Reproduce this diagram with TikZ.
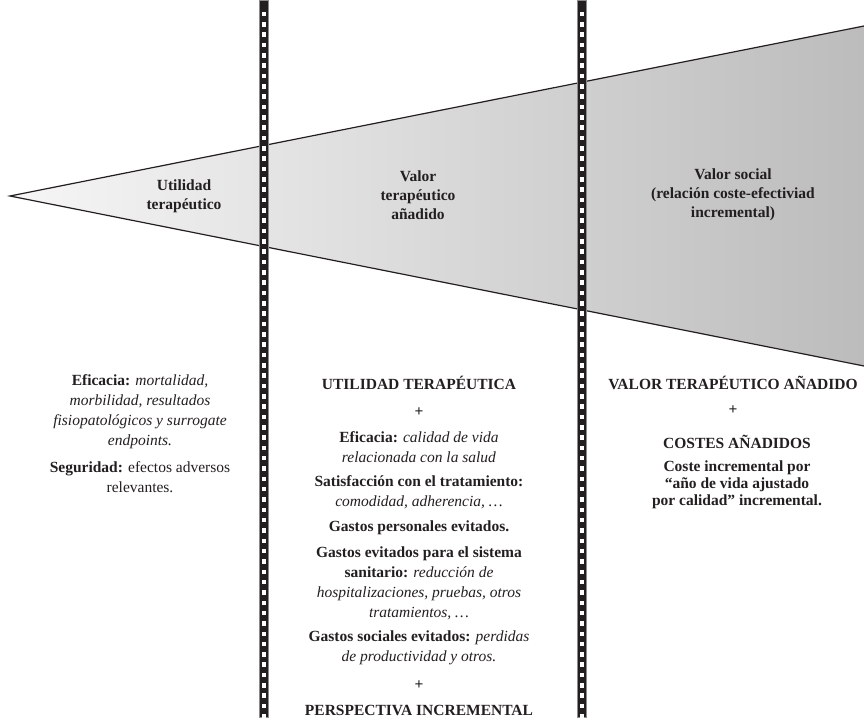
\documentclass[tikz,border=0pt]{standalone}
\usepackage{fontspec}
\setmainfont{Liberation Serif}
\definecolor{ink}{HTML}{231F20}
\definecolor{shadeL}{HTML}{F6F6F6}
\definecolor{shadeR}{HTML}{BCBCBC}
\tikzset{
  txt/.style={align=center, inner sep=0pt, text=ink, font=\fontsize{15.5}{20}\selectfont},
  bold/.style={txt, font=\fontsize{15.5}{20}\selectfont\bfseries},
  tight/.style={align=center, inner sep=0pt, text=ink, font=\fontsize{15.5}{17}\selectfont\bfseries},
  label/.style={align=center, inner sep=0pt, text=ink, font=\fontsize{15.5}{19}\selectfont\bfseries},
  filmbar/.style={fill=ink, draw=black!45, line width=0.5pt},
  edge/.style={draw=ink, line width=1.2pt}
}
\newcommand{\filmstrip}[1]{%
  \fill[filmbar] (#1-4.5,0) rectangle (#1+4.5,717);
  \foreach \k in {0,...,68}{
    \fill[white] (#1-2,{14+10.33*\k-2.3}) rectangle ++(4,4.6);
  }%
}
\begin{document}
\begin{tikzpicture}[x=1pt,y=-1pt]
\useasboundingbox (0,0) rectangle (864,717);
% wedge
\shade[left color=shadeL, right color=shadeR] (10,196) -- (864,26) -- (864,366) -- cycle;
\draw[edge] (864,26) -- (10,196) -- (864,366);
% film strips
\filmstrip{263.5}
\filmstrip{582}
% wedge labels
\node[label] (l1) at (184,196) {Utilidad\\terapéutico};
\node[label] (l2) at (418,195) {Valor\\terapéutico\\añadido};
\node[label] (l3) at (733,195) {Valor social\\(relación coste-efectiviad\\incremental)};
% left column
\node[txt] (a1) at (140,412) {\textbf{Eficacia:} \textit{mortalidad,}\\\textit{morbilidad, resultados}\\\textit{fisiopatológicos y surrogate}\\\textit{endpoints.}};
\node[txt] (a2) at (140,477) {\textbf{Seguridad:} efectos adversos\\relevantes.};
% middle column
\node[bold] (b1) at (419,383) {UTILIDAD TERAPÉUTICA};
\node[bold] (b2) at (419,412) {+};
\node[txt] (b3) at (419,447.5) {\textbf{Eficacia:} \textit{calidad de vida}\\\textit{relacionada con la salud}};
\node[txt] (b4) at (419,492.5) {\textbf{Satisfacción con el tratamiento:}\\\textit{comodidad, adherencia, …}};
\node[bold] (b5) at (419,528) {Gastos personales evitados.};
\node[txt] (b6) at (419,583) {\textbf{Gastos evitados para el sistema}\\\textbf{sanitario:} \textit{reducción de}\\\textit{hospitalizaciones, pruebas, otros}\\\textit{tratamientos, …}};
\node[txt] (b7) at (419,647.5) {\textbf{Gastos sociales evitados:} \textit{perdidas}\\\textit{de productividad y otros.}};
\node[bold] (b8) at (419,685) {+};
\node[bold] (b9) at (419,710) {PERSPECTIVA INCREMENTAL};
% right column
\node[bold] (c1) at (733,383) {VALOR TERAPÉUTICO AÑADIDO};
\node[bold] (c2) at (733,410) {+};
\node[bold] (c3) at (737,442) {COSTES AÑADIDOS};
\node[tight] (c4) at (737,485) {Coste incremental por\\“año de vida ajustado\\por calidad” incremental.};
\end{tikzpicture}
\end{document}
